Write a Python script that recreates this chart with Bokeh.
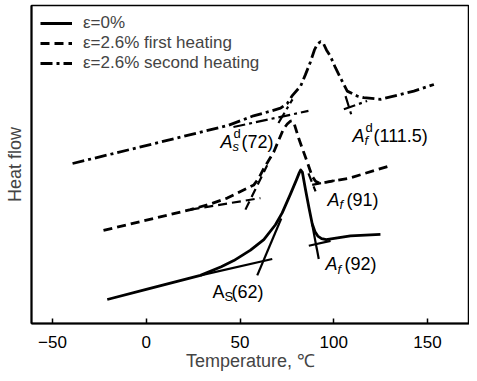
from bokeh.plotting import figure
from bokeh.models import Range1d, FixedTicker, Legend, LegendItem
from bokeh.core.properties import value
from bokeh.embed import file_html
from bokeh.resources import INLINE

# ---- data (temperature in deg C, heat flow in arbitrary units) ----
t_solid = [-20.8, 0.0, 28.9, 40.0, 46.7, 55.6, 62.7, 68.9, 72.5, 76.9, 80.1, 81.6, 82.4,
           83.3, 84.9, 86.7, 88.5, 90.0, 91.5, 93.5, 96.0, 108.9, 124.9]
hf_solid = [24.3, 34.5, 48.7, 57.5, 63.7, 74.3, 85.0, 100.0, 112.0, 131.0, 145.4, 152.5, 155.5,
            153.0, 136.0, 118.0, 101.0, 93.0, 88.5, 86.0, 85.0, 88.7, 90.3]

t_first = [-22.8, 23.6, 35.0, 43.2, 53.8, 57.4, 60.0, 62.7, 68.0, 73.2, 75.2, 77.0, 77.8,
           78.8, 81.4, 85.8, 88.5, 90.3, 91.8, 95.6, 108.0, 128.7]
hf_first = [94.3, 115.3, 121.5, 127.0, 137.0, 140.3, 147.0, 157.0, 173.7, 197.0, 202.0, 205.0, 205.3,
            203.0, 187.0, 163.7, 149.0, 144.0, 142.5, 143.0, 147.0, 159.0]

t_second = [-39.3, 43.2, 57.2, 66.3, 71.6, 75.3, 78.0, 82.3, 84.9, 87.6, 89.7, 91.3, 92.9,
            94.5, 96.1, 98.3, 100.9, 103.6, 107.2, 112.5, 116.0, 124.9, 142.7, 153.4]
hf_second = [162.0, 200.3, 210.3, 215.0, 218.0, 223.0, 231.0, 240.3, 252.0, 265.0, 277.0, 283.0, 285.3,
             283.5, 277.0, 270.3, 259.0, 248.7, 235.3, 230.3, 228.7, 227.0, 235.3, 242.0]

# tangent construction lines: (T list, HF list)
tan_solid = [([28.9, 67.2], [48.7, 65.3]), ([59.2, 72.0], [48.7, 106.3]),
             ([86.7, 98.3], [78.7, 83.7]), ([88.5, 92.0], [100.3, 65.3])]
tan_first = [([23.6, 60.9], [115.3, 127.0]), ([52.9, 64.5], [115.3, 160.3]),
             ([88.5, 101.8], [140.3, 145.3]), ([86.5, 90.3], [152.0, 133.7])]
tan_second = [([46.5, 86.5], [199.0, 215.3]), ([70.5, 78.0], [203.0, 227.0]),
              ([105.4, 117.8], [217.0, 225.3]), ([106.3, 109.8], [230.3, 208.7])]

x_ticks = [-50, 0, 50, 100, 150]
legend_labels = ["\u03b5=0%", "\u03b5=2.6% first heating", "\u03b5=2.6% second heating"]

FONT = "Liberation Sans"

p = figure(width=469, height=373, output_backend="svg", toolbar_location=None,
           x_range=Range1d(-61.2, 172.4), y_range=Range1d(0, 322),
           min_border_left=31, min_border_right=0, min_border_top=5, min_border_bottom=46)
p.grid.visible = False
p.outline_line_color = "black"
p.outline_line_width = 1.5
p.background_fill_color = "white"
p.border_fill_color = "white"

styles = [dict(line_dash="solid"), dict(line_dash="9 5"), dict(line_dash="12 4 3 4")]
LW = 2.8
r0 = p.line(t_solid, hf_solid, line_color="black", line_width=LW, line_join="round", **styles[0])
r1 = p.line(t_first, hf_first, line_color="black", line_width=LW, line_join="round", **styles[1])
r2 = p.line(t_second, hf_second, line_color="black", line_width=LW, line_join="round", **styles[2])
for tl, st in ((tan_solid, styles[0]), (tan_first, styles[1]), (tan_second, styles[2])):
    for xs, ys in tl:
        p.line(xs, ys, line_color="black", line_width=2.2, **st)

# annotations: (T, HF, main, sub, sup, rest, italic)
ann = [
    (35.3, 32.0, "A", "S", "", "(62)", "normal"),
    (95.6, 60.0, "A", "f", "", "(92)", "italic"),
    (96.7, 125.3, "A", "f", "", "(91)", "italic"),
    (39.6, 184.0, "A", "s", "d", "(72)", "italic"),
    (110.0, 190.3, "A", "f", "d", " (111.5)", "italic"),
]
for (tx, hy, main, sub, sup, rest, sty) in ann:
    p.text([tx], [hy], text=[main], text_font=value(FONT), text_font_size="18px",
           text_font_style=sty, text_baseline="middle", text_align="left", text_color="black")
    p.text([tx], [hy], text=[sub], text_font=value(FONT), text_font_size="13px",
           text_font_style=sty, text_baseline="middle", text_align="left", text_color="black",
           x_offset=12, y_offset=5)
    if sup:
        p.text([tx], [hy], text=[sup], text_font=value(FONT), text_font_size="13px",
               text_baseline="middle", text_align="left", text_color="black",
               x_offset=13, y_offset=-8)
    off = 21 if sup else 19
    p.text([tx], [hy], text=[rest], text_font=value(FONT), text_font_size="18px",
           text_baseline="middle", text_align="left", text_color="black", x_offset=off)

# axes
p.xaxis.ticker = FixedTicker(ticks=x_ticks)
p.xaxis.minor_tick_line_color = None
p.xaxis.major_tick_in = 5
p.xaxis.major_tick_out = 0
p.xaxis.major_tick_line_width = 1.5
p.xaxis.major_label_standoff = 12
p.xaxis.axis_line_width = 2
p.xaxis.major_label_text_font = FONT
p.xaxis.major_label_text_font_size = "17px"
p.xaxis.major_label_text_color = "black"
p.xaxis.axis_label = "Temperature, \u2103"
p.xaxis.axis_label_text_font = FONT
p.xaxis.axis_label_text_font_size = "18px"
p.xaxis.axis_label_text_font_style = "normal"
p.xaxis.axis_label_standoff = 0

p.yaxis.ticker = FixedTicker(ticks=[])
p.yaxis.minor_tick_line_color = None
p.yaxis.major_tick_in = 0
p.yaxis.major_tick_out = 0
p.yaxis.major_label_standoff = 0
p.yaxis.axis_line_width = 2
p.yaxis.axis_label = "Heat flow"
p.yaxis.axis_label_text_font = FONT
p.yaxis.axis_label_text_font_size = "18px"
p.yaxis.axis_label_text_font_style = "normal"
p.yaxis.axis_label_standoff = 7

legend = Legend(items=[LegendItem(label=legend_labels[0], renderers=[r0]),
                       LegendItem(label=legend_labels[1], renderers=[r1]),
                       LegendItem(label=legend_labels[2], renderers=[r2])],
                location=(9, 250), border_line_color=None, background_fill_alpha=0,
                label_text_font=FONT, label_text_font_size="17px",
                glyph_width=32, glyph_height=18, label_height=18, label_standoff=11,
                spacing=0, padding=0, margin=0)
p.add_layout(legend)

open("out.html", "w").write(file_html(p, INLINE))
